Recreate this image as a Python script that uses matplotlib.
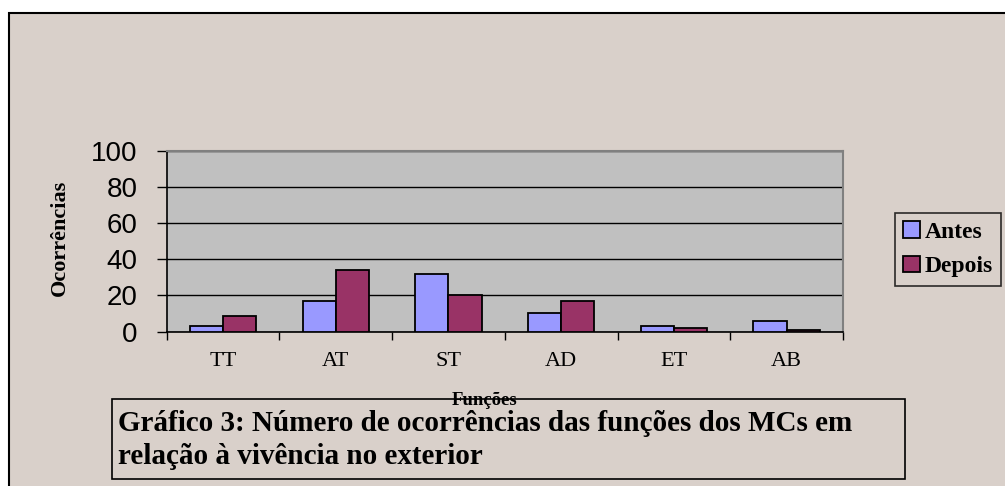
import matplotlib
matplotlib.use('Agg')
import matplotlib.pyplot as plt
import matplotlib.patches as mpatches
import numpy as np

# data
funcoes = ['TT', 'AT', 'ST', 'AD', 'ET', 'AB']
antes = [3, 17, 32, 10, 3, 6]
depois = [8.5, 34, 20, 17, 2, 1]

c_antes = '#9999FF'
c_depois = '#993366'
bg = '#D9D0CA'

W, H = 1005, 486
fig = plt.figure(figsize=(W/100., H/100.), dpi=100)
fig.patch.set_facecolor('white')

# outer frame of the chart
fig.patches.append(mpatches.Rectangle((9./W, -0.01), 1.02, 1 - 13.5/H + 0.01,
                                      transform=fig.transFigure, facecolor=bg,
                                      edgecolor='black', lw=1.5, zorder=-10))

ax = fig.add_axes([166.7/W, 1 - 331.5/H, (843-166.7)/W, (331.5-151)/H])
ax.set_facecolor('#C0C0C0')

x = np.arange(len(funcoes))
w = 0.295
ax.bar(x - w/2, antes, w, color=c_antes, edgecolor='black', lw=1.3, label='Antes', zorder=3)
ax.bar(x + w/2, depois, w, color=c_depois, edgecolor='black', lw=1.3, label='Depois', zorder=3)

ax.set_xlim(-0.5, 5.5)
ax.set_ylim(0, 100)
ax.set_yticks([0, 20, 40, 60, 80, 100])
ax.yaxis.grid(True, color='black', lw=1.0, zorder=1)
ax.set_axisbelow(True)
ax.tick_params(axis='y', length=7, width=1, pad=14, labelsize=20)
for lab in ax.get_yticklabels():
    lab.set_family('Liberation Sans')

ax.set_xticks(x)
ax.set_xticklabels(funcoes, family='Liberation Serif', fontsize=16)
ax.tick_params(axis='x', length=0, pad=15)
ax.set_xticks(np.arange(-0.5, 6.0, 1.0), minor=True)
ax.tick_params(axis='x', which='minor', length=6, width=1)

for s in ['top', 'right']:
    ax.spines[s].set_color('#808080')
    ax.spines[s].set_linewidth(1.5)
for s in ['left', 'bottom']:
    ax.spines[s].set_color('black')
    ax.spines[s].set_linewidth(1.2)

fig.text(60./W, 1 - 238./H, 'Ocorrências', rotation=90, ha='center', va='center',
         family='Liberation Serif', fontweight='bold', fontsize=16)

leg = fig.legend(loc='upper left', bbox_to_anchor=(895./W, 1 - 213./H), borderaxespad=0,
                 frameon=True, fancybox=False, handlelength=0.7, handleheight=0.7,
                 handletextpad=0.2, borderpad=0.35, labelspacing=0.55,
                 prop={'family': 'Liberation Serif', 'weight': 'bold', 'size': 17})
leg.get_frame().set_edgecolor('black')
leg.get_frame().set_facecolor(bg)
leg.get_frame().set_linewidth(1.2)

# caption box
fig.patches.append(mpatches.Rectangle((112./W, 1 - 479./H), (905-112.)/W, (479-399.)/H,
                                      transform=fig.transFigure, facecolor='none',
                                      edgecolor='black', lw=1.2, zorder=1))
fig.text(118./W, 1 - 423./H, 'Gráfico 3: Número de ocorrências das funções dos MCs em',
         ha='left', va='center', family='Liberation Serif', fontweight='bold', fontsize=21)
fig.text(118./W, 1 - 456./H, 'relação à vivência no exterior',
         ha='left', va='center', family='Liberation Serif', fontweight='bold', fontsize=21)
fig.text(485./W, 1 - 400./H, 'Funções', ha='center', va='center',
         family='Liberation Serif', fontweight='bold', fontsize=13.5)

fig.savefig('out.png', dpi=100, facecolor=fig.get_facecolor())
